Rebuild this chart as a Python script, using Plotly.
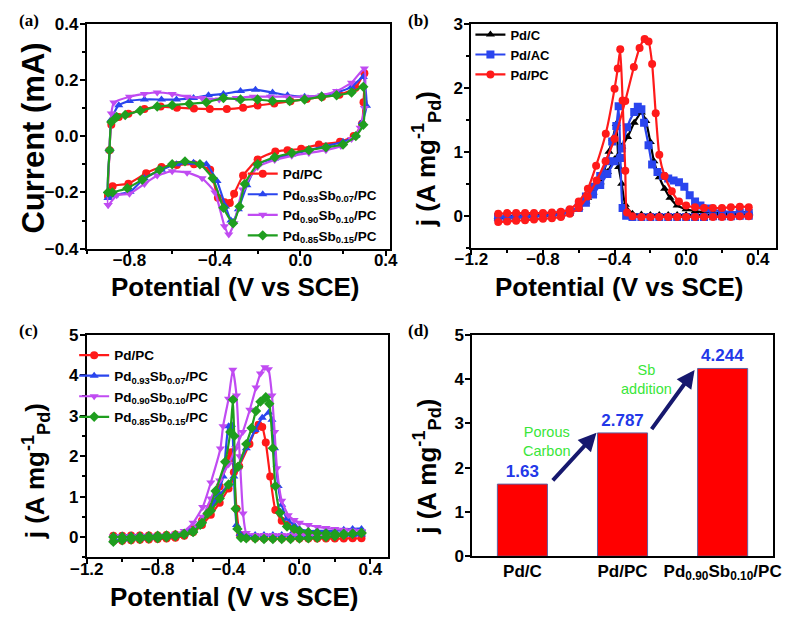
import plotly.graph_objects as go

W, H = 802, 639

# ---------------- Panel (a): CV curves ----------------
a_pc_x = [-0.90, -0.893, -0.885, -0.85, -0.805, -0.73, -0.654, -0.578, -0.498, -0.424, -0.344, -0.268, -0.20, -0.122, -0.046, 0.03, 0.102, 0.183, 0.258, 0.30,
          0.296, 0.289, 0.25, 0.186, 0.087, 0.004, -0.06, -0.117, -0.20, -0.268, -0.31, -0.33, -0.355, -0.386, -0.422, -0.498, -0.578, -0.65, -0.722, -0.805, -0.879, -0.90]
a_pc_y = [-0.213, -0.05, 0.04, 0.068, 0.079, 0.096, 0.105, 0.101, 0.098, 0.096, 0.096, 0.101, 0.109, 0.116, 0.124, 0.132, 0.139, 0.147, 0.171, 0.223,
          0.12, 0.044, 0.0, -0.02, -0.03, -0.045, -0.05, -0.055, -0.083, -0.14, -0.205, -0.238, -0.235, -0.219, -0.12, -0.10, -0.103, -0.11, -0.132, -0.169, -0.178, -0.213]

a_93_x = [-0.90, -0.893, -0.885, -0.85, -0.80, -0.73, -0.65, -0.58, -0.50, -0.43, -0.36, -0.28, -0.21, -0.13, -0.06, 0.02, 0.10, 0.17, 0.24, 0.295, 0.31,
          0.29, 0.26, 0.20, 0.12, 0.04, -0.04, -0.12, -0.20, -0.25, -0.29, -0.315, -0.325, -0.35, -0.39, -0.44, -0.50, -0.58, -0.65, -0.73, -0.797, -0.87, -0.90]
a_93_y = [-0.22, -0.05, 0.06, 0.11, 0.125, 0.13, 0.13, 0.13, 0.135, 0.145, 0.15, 0.16, 0.165, 0.155, 0.145, 0.14, 0.145, 0.155, 0.175, 0.21, 0.108,
          0.05, 0.0, -0.02, -0.035, -0.05, -0.065, -0.08, -0.10, -0.175, -0.26, -0.305, -0.30, -0.25, -0.16, -0.10, -0.095, -0.10, -0.12, -0.15, -0.198, -0.21, -0.22]

a_90_x = [-0.90, -0.893, -0.885, -0.873, -0.80, -0.73, -0.67, -0.60, -0.53, -0.46, -0.38, -0.30, -0.22, -0.14, -0.06, 0.02, 0.10, 0.17, 0.24, 0.30,
          0.30, 0.28, 0.24, 0.19, 0.12, 0.04, -0.04, -0.12, -0.20, -0.27, -0.31, -0.335, -0.355, -0.40, -0.46, -0.53, -0.60, -0.67, -0.73, -0.80, -0.86, -0.90]
a_90_y = [-0.245, -0.05, 0.08, 0.119, 0.14, 0.15, 0.155, 0.15, 0.14, 0.135, 0.13, 0.135, 0.14, 0.14, 0.14, 0.14, 0.145, 0.16, 0.19, 0.24,
          0.10, 0.03, -0.01, -0.035, -0.05, -0.06, -0.07, -0.085, -0.11, -0.19, -0.31, -0.35, -0.32, -0.20, -0.15, -0.13, -0.125, -0.14, -0.17, -0.205, -0.21, -0.245]

a_85_x = [-0.90, -0.893, -0.885, -0.86, -0.82, -0.75, -0.67, -0.60, -0.52, -0.44, -0.36, -0.28, -0.20, -0.13, -0.05, 0.02, 0.10, 0.17, 0.24, 0.295,
          0.295, 0.26, 0.20, 0.12, 0.04, -0.04, -0.12, -0.20, -0.26, -0.285, -0.315, -0.36, -0.41, -0.47, -0.54, -0.60, -0.66, -0.74, -0.81, -0.88, -0.90]
a_85_y = [-0.20, -0.05, 0.05, 0.068, 0.075, 0.09, 0.105, 0.11, 0.115, 0.12, 0.135, 0.13, 0.13, 0.125, 0.125, 0.13, 0.14, 0.145, 0.155, 0.175,
          0.04, 0.0, -0.03, -0.04, -0.05, -0.06, -0.075, -0.10, -0.17, -0.25, -0.31, -0.255, -0.15, -0.10, -0.09, -0.10, -0.12, -0.155, -0.185, -0.20, -0.20]

# ---------------- Panel (b) ----------------
b_c_x = [-1.05, -1.0, -0.95, -0.9, -0.85, -0.8, -0.75, -0.7, -0.65, -0.6, -0.56, -0.52, -0.48, -0.44, -0.40, -0.36, -0.327, -0.29, -0.25, -0.225, -0.20, -0.18, -0.15, -0.12, -0.09, -0.05, 0.0, 0.05, 0.1, 0.15, 0.2, 0.25, 0.3, 0.35,
         0.35, 0.3, 0.25, 0.2, 0.15, 0.1, 0.05, 0.0, -0.05, -0.1, -0.15, -0.2, -0.25, -0.3, -0.34, -0.36, -0.377, -0.39, -0.41, -0.431, -0.46, -0.5, -0.55, -0.6, -0.65, -0.7, -0.75, -0.8, -0.85, -0.9, -0.95, -1.0, -1.05]
b_c_y = [-0.04, -0.03, -0.02, -0.02, -0.01, 0.0, 0.01, 0.03, 0.06, 0.12, 0.22, 0.36, 0.52, 0.68, 0.88, 1.08, 1.23, 1.45, 1.61, 1.48, 1.15, 0.85, 0.6, 0.42, 0.28, 0.16, 0.1, 0.07, 0.05, 0.05, 0.04, 0.04, 0.05, 0.05,
         0.03, 0.02, 0.01, 0.01, 0.01, 0.01, 0.01, 0.01, 0.01, 0.01, 0.01, 0.01, 0.02, 0.03, 0.17, 0.5, 0.76, 1.43, 1.2, 1.0, 0.68, 0.47, 0.28, 0.13, 0.06, 0.03, 0.02, 0.01, 0.01, 0.0, 0.0, -0.01, -0.02]

b_ac_x = [-1.05, -1.0, -0.95, -0.9, -0.85, -0.8, -0.75, -0.7, -0.65, -0.6, -0.56, -0.52, -0.48, -0.44, -0.40, -0.36, -0.33, -0.29, -0.27, -0.25, -0.235, -0.21, -0.19, -0.16, -0.13, -0.10, -0.07, -0.04, -0.01, 0.02, 0.05, 0.08, 0.12, 0.2, 0.3, 0.35,
          0.35, 0.3, 0.25, 0.2, 0.15, 0.1, 0.05, 0.0, -0.05, -0.1, -0.15, -0.2, -0.25, -0.3, -0.335, -0.355, -0.367, -0.377, -0.39, -0.413, -0.44, -0.48, -0.52, -0.56, -0.6, -0.65, -0.7, -0.75, -0.8, -0.85, -0.9, -0.95, -1.0, -1.05]
b_ac_y = [-0.03, -0.03, -0.02, -0.02, -0.01, 0.0, 0.01, 0.03, 0.06, 0.12, 0.2, 0.33, 0.48, 0.65, 0.85, 1.05, 1.38, 1.62, 1.7, 1.66, 1.45, 1.1, 0.8, 0.68, 0.62, 0.58, 0.55, 0.52, 0.45, 0.32, 0.22, 0.16, 0.11, 0.07, 0.05, 0.04,
          0.0, 0.0, -0.01, -0.01, -0.01, -0.02, -0.02, -0.02, -0.02, -0.02, -0.02, -0.02, -0.02, -0.02, 0.0, 0.12, 0.9, 1.71, 1.4, 1.16, 0.85, 0.62, 0.45, 0.3, 0.14, 0.06, 0.02, 0.01, 0.0, 0.0, -0.01, -0.01, -0.02, -0.02]

b_pc_x = [-1.05, -1.0, -0.95, -0.9, -0.85, -0.8, -0.75, -0.7, -0.65, -0.6, -0.55, -0.5, -0.45, -0.40, -0.34, -0.292, -0.26, -0.232, -0.21, -0.19, -0.17, -0.15, -0.12, -0.08, -0.04, 0.0, 0.05, 0.1, 0.15, 0.2, 0.25, 0.3, 0.35,
          0.35, 0.3, 0.25, 0.2, 0.15, 0.1, 0.05, 0.0, -0.05, -0.1, -0.15, -0.2, -0.25, -0.3, -0.33, -0.34, -0.355, -0.368, -0.382, -0.40, -0.449, -0.503, -0.549, -0.60, -0.65, -0.7, -0.75, -0.8, -0.85, -0.9, -0.95, -1.0, -1.05]
b_pc_y = [-0.1, -0.09, -0.08, -0.07, -0.06, -0.05, -0.04, -0.02, 0.03, 0.12, 0.3, 0.55, 0.85, 1.2, 1.79, 2.32, 2.62, 2.76, 2.72, 2.37, 1.6, 0.95, 0.62, 0.38, 0.22, 0.16, 0.13, 0.12, 0.12, 0.12, 0.13, 0.14, 0.13,
          -0.01, -0.01, -0.02, -0.02, -0.02, -0.02, -0.02, -0.02, -0.02, -0.02, -0.02, -0.02, -0.02, -0.01, 0.05, 0.70, 1.8, 2.6, 2.3, 1.98, 1.28, 0.78, 0.42, 0.22, 0.1, 0.06, 0.05, 0.04, 0.04, 0.04, 0.04, 0.04, 0.03]

# ---------------- Panel (c) ----------------
c_pc_x = [-1.05, -1.0, -0.95, -0.9, -0.85, -0.8, -0.75, -0.7, -0.65, -0.6, -0.55, -0.5, -0.45, -0.40, -0.34, -0.282, -0.25, -0.231, -0.21, -0.19, -0.165, -0.136, -0.10, -0.07, -0.03, 0.0, 0.05, 0.1, 0.15, 0.2, 0.25, 0.3, 0.35,
          0.35, 0.3, 0.25, 0.2, 0.15, 0.1, 0.05, 0.0, -0.05, -0.1, -0.15, -0.2, -0.25, -0.3, -0.335, -0.355, -0.37, -0.385, -0.40, -0.45, -0.5, -0.55, -0.6, -0.65, -0.7, -0.75, -0.8, -0.85, -0.9, -0.95, -1.0, -1.05]
c_pc_y = [-0.1, -0.09, -0.08, -0.07, -0.06, -0.05, -0.04, -0.02, 0.03, 0.12, 0.3, 0.55, 0.85, 1.2, 1.75, 2.3, 2.65, 2.78, 2.72, 2.34, 1.5, 0.67, 0.4, 0.3, 0.2, 0.1, 0.05, 0.02, 0.02, 0.03, 0.05, 0.07, 0.08,
          -0.03, -0.03, -0.04, -0.04, -0.04, -0.04, -0.04, -0.04, -0.04, -0.04, -0.04, -0.04, -0.03, -0.02, 0.05, 0.7, 1.6, 2.1, 1.94, 1.25, 0.75, 0.4, 0.2, 0.1, 0.06, 0.05, 0.04, 0.04, 0.04, 0.04, 0.03, 0.03]

c_93_x = [-1.05, -1.0, -0.95, -0.9, -0.85, -0.8, -0.75, -0.7, -0.65, -0.6, -0.55, -0.5, -0.45, -0.4, -0.35, -0.3, -0.25, -0.21, -0.173, -0.155, -0.14, -0.12, -0.10, -0.07, -0.03, 0.0, 0.05, 0.1, 0.15, 0.2, 0.25, 0.3, 0.35,
          0.35, 0.3, 0.25, 0.2, 0.15, 0.1, 0.05, 0.0, -0.05, -0.1, -0.15, -0.2, -0.25, -0.3, -0.335, -0.355, -0.37, -0.383, -0.40, -0.43, -0.47, -0.52, -0.57, -0.62, -0.7, -0.75, -0.8, -0.85, -0.9, -0.95, -1.0, -1.05]
c_93_y = [-0.08, -0.06, -0.05, -0.04, -0.03, -0.02, 0.0, 0.02, 0.06, 0.15, 0.4, 0.7, 1.05, 1.3, 1.7, 2.2, 2.65, 2.95, 3.08, 2.9, 2.2, 1.26, 0.8, 0.45, 0.3, 0.2, 0.15, 0.15, 0.15, 0.15, 0.18, 0.2, 0.2,
          0.06, 0.05, 0.05, 0.05, 0.05, 0.05, 0.05, 0.05, 0.05, 0.05, 0.05, 0.05, 0.05, 0.05, 0.08, 0.3, 1.5, 2.78, 2.74, 1.5, 1.0, 0.6, 0.3, 0.15, 0.05, 0.04, 0.04, 0.04, 0.04, 0.04, 0.04, 0.03, 0.03]

c_90_x = [-1.05, -1.0, -0.95, -0.9, -0.85, -0.8, -0.75, -0.7, -0.65, -0.6, -0.546, -0.5, -0.45, -0.4, -0.36, -0.32, -0.28, -0.245, -0.22, -0.195, -0.175, -0.155, -0.14, -0.127, -0.10, -0.063, -0.03, 0.0, 0.05, 0.1, 0.15, 0.2, 0.25, 0.3, 0.35,
          0.35, 0.3, 0.25, 0.2, 0.15, 0.1, 0.05, 0.0, -0.05, -0.1, -0.15, -0.2, -0.25, -0.3, -0.318, -0.337, -0.355, -0.376, -0.40, -0.431, -0.446, -0.5, -0.546, -0.6, -0.65, -0.7, -0.75, -0.8, -0.85, -0.9, -0.95, -1.0, -1.05]
c_90_y = [-0.12, -0.1, -0.08, -0.06, -0.04, -0.02, 0.0, 0.03, 0.08, 0.2, 0.5, 0.95, 1.4, 1.8, 2.2, 2.6, 3.15, 3.7, 4.05, 4.2, 4.15, 3.5, 2.6, 1.7, 0.9, 0.54, 0.42, 0.35, 0.3, 0.25, 0.22, 0.2, 0.18, 0.16, 0.15,
          0.1, 0.08, 0.07, 0.06, 0.05, 0.05, 0.05, 0.05, 0.05, 0.05, 0.05, 0.05, 0.05, 0.1, 0.58, 2.0, 3.5, 4.14, 3.42, 2.74, 2.19, 1.35, 0.74, 0.35, 0.15, 0.08, 0.05, 0.04, 0.03, 0.03, 0.02, 0.02, 0.02]

c_85_x = [-1.05, -1.0, -0.95, -0.9, -0.85, -0.8, -0.75, -0.7, -0.65, -0.6, -0.55, -0.5, -0.45, -0.4, -0.346, -0.3, -0.27, -0.245, -0.22, -0.19, -0.17, -0.15, -0.136, -0.11, -0.07, -0.03, 0.0, 0.05, 0.1, 0.15, 0.2, 0.25, 0.3, 0.35,
          0.35, 0.3, 0.25, 0.2, 0.15, 0.1, 0.05, 0.0, -0.05, -0.1, -0.15, -0.2, -0.25, -0.3, -0.33, -0.35, -0.36, -0.368, -0.375, -0.39, -0.419, -0.473, -0.519, -0.56, -0.6, -0.65, -0.7, -0.75, -0.8, -0.85, -0.9, -0.95, -1.0, -1.05]
c_85_y = [-0.12, -0.08, -0.06, -0.05, -0.04, -0.03, -0.01, 0.02, 0.06, 0.12, 0.35, 0.65, 0.95, 1.3, 1.74, 2.3, 2.7, 3.12, 3.35, 3.46, 3.3, 2.2, 1.26, 0.6, 0.26, 0.2, 0.15, 0.12, 0.1, 0.09, 0.08, 0.08, 0.08, 0.1,
          0.1, 0.08, 0.05, 0.02, 0.0, -0.02, -0.03, -0.04, -0.05, -0.05, -0.05, -0.05, -0.04, -0.03, -0.02, 0.2, 0.7, 2.5, 3.4, 2.6, 1.86, 1.14, 0.58, 0.3, 0.15, 0.08, 0.05, 0.04, 0.03, 0.02, 0.01, 0.0, 0.0, 0.0]

# ---------------- Panel (d) ----------------
d_categories = ["Pd/C", "Pd/PC", "Pd<sub>0.90</sub>Sb<sub>0.10</sub>/PC"]
d_values = [1.63, 2.787, 4.244]
d_labels = ["1.63", "2.787", "4.244"]

# ---------------- styling ----------------
RED = "#FF1A1A"
BLUE = "#2A45EE"
VIOLET = "#C04BF2"
GREEN = "#1F9E1F"
BLACK = "#000000"
FONT = "Liberation Sans, Arial, sans-serif"

def dom_x(p0, p1):
    return [p0 / W, p1 / W]

def dom_y(top, bottom):
    return [1 - bottom / H, 1 - top / H]

fig = go.Figure()

def add_series(x, y, name, color, symbol, xa, ya, legend):
    fig.add_trace(go.Scatter(
        x=x, y=y, name=name, mode="lines+markers",
        line=dict(color=color, width=2.2, shape="spline", smoothing=0.5),
        marker=dict(color=color, symbol=symbol, size=8),
        xaxis=xa, yaxis=ya, legend=legend, cliponaxis=True))

add_series(a_pc_x, a_pc_y, "Pd/PC", RED, "circle", "x", "y", "legend")
add_series(a_93_x, a_93_y, "Pd<sub>0.93</sub>Sb<sub>0.07</sub>/PC", BLUE, "triangle-up", "x", "y", "legend")
add_series(a_90_x, a_90_y, "Pd<sub>0.90</sub>Sb<sub>0.10</sub>/PC", VIOLET, "triangle-down", "x", "y", "legend")
add_series(a_85_x, a_85_y, "Pd<sub>0.85</sub>Sb<sub>0.15</sub>/PC", GREEN, "diamond", "x", "y", "legend")

add_series(b_c_x, b_c_y, "Pd/C", BLACK, "triangle-up", "x2", "y2", "legend2")
add_series(b_ac_x, b_ac_y, "Pd/AC", BLUE, "square", "x2", "y2", "legend2")
add_series(b_pc_x, b_pc_y, "Pd/PC", RED, "circle", "x2", "y2", "legend2")

add_series(c_pc_x, c_pc_y, "Pd/PC", RED, "circle", "x3", "y3", "legend3")
add_series(c_93_x, c_93_y, "Pd<sub>0.93</sub>Sb<sub>0.07</sub>/PC", BLUE, "triangle-up", "x3", "y3", "legend3")
add_series(c_90_x, c_90_y, "Pd<sub>0.90</sub>Sb<sub>0.10</sub>/PC", VIOLET, "triangle-down", "x3", "y3", "legend3")
add_series(c_85_x, c_85_y, "Pd<sub>0.85</sub>Sb<sub>0.15</sub>/PC", GREEN, "diamond", "x3", "y3", "legend3")

fig.add_trace(go.Bar(
    x=d_categories, y=d_values, text=d_labels, textposition="outside",
    textfont=dict(family=FONT, size=17, color="#2338E8", weight="bold"),
    marker=dict(color="#FF0000", line=dict(color="#6060A0", width=1)),
    width=0.5, xaxis="x4", yaxis="y4", showlegend=False, cliponaxis=False))

tickfont = dict(family=FONT, size=17, color="black", weight="bold")

def axis(domain, rng, dtick, minor_dtick, anchor, fmt=None, standoff=0, ticks="outside"):
    d = dict(domain=domain, range=rng, dtick=dtick, tick0=0, anchor=anchor,
             showline=True, linecolor="black", linewidth=2, mirror=True,
             ticks=ticks, ticklen=5, tickwidth=2, tickcolor="black",
             tickfont=tickfont, showgrid=False, zeroline=False,
             ticklabelstandoff=standoff)
    if fmt:
        d["tickformat"] = fmt
    if minor_dtick:
        d["minor"] = dict(dtick=minor_dtick, tick0=0, ticks="outside", ticklen=3, tickwidth=2, tickcolor="black", showgrid=False)
    return d

fig.update_layout(
    width=W, height=H, margin=dict(l=0, r=0, t=0, b=0),
    paper_bgcolor="white", plot_bgcolor="white",
    font=dict(family=FONT, color="black"),
    xaxis=axis(dom_x(72, 385), [-1.0, 0.42], 0.4, 0.2, "y", ".1f", -10),
    yaxis=axis(dom_y(15, 247), [-0.4, 0.4], 0.2, 0.1, "x", ".1f", -2),
    xaxis2=axis(dom_x(469, 783), [-1.2, 0.5], 0.4, 0.2, "y2", ".1f", -10),
    yaxis2=axis(dom_y(15, 246), [-0.5, 3.0], 1, 0.5, "x2", None, -2),
    xaxis3=axis(dom_x(72, 383), [-1.2, 0.5], 0.4, 0.2, "y3", ".1f", -10),
    yaxis3=axis(dom_y(336, 565), [-0.5, 5.0], 1, 0.5, "x3", None, -2),
    xaxis4=dict(domain=dom_x(470, 780), range=[-0.5, 2.5], anchor="y4", showline=True, linecolor="black",
                linewidth=2, mirror=True, ticks="", tickfont=tickfont, showgrid=False, zeroline=False,
                ticklabelstandoff=-2),
    yaxis4=axis(dom_y(336, 564), [0, 5.0], 1, None, "x4", None, -2),
    legend=dict(x=233 / W, y=1 - 154 / H, xanchor="left", yanchor="top", bgcolor="rgba(0,0,0,0)",
                font=dict(family=FONT, size=13.5, color="black", weight="bold"), tracegroupgap=0, itemwidth=30),
    legend2=dict(x=468 / W, y=1 - 11 / H, xanchor="left", yanchor="top", bgcolor="rgba(0,0,0,0)",
                 font=dict(family=FONT, size=13, color="black", weight="bold"), tracegroupgap=0, itemwidth=30),
    legend3=dict(x=59 / W, y=1 - 341 / H, xanchor="left", yanchor="top", bgcolor="rgba(0,0,0,0)",
                 font=dict(family=FONT, size=13.5, color="black", weight="bold"), tracegroupgap=0, itemwidth=30),
)

# axis titles (placed as annotations in pixel positions)
def title(text, px, py, size, angle=0):
    fig.add_annotation(text=f"<b>{text}</b>", x=px / W, y=1 - py / H, xref="paper", yref="paper",
                       xanchor="center", yanchor="middle", showarrow=False, textangle=angle,
                       font=dict(family=FONT, size=size, color="black"))

xt = "Potential (V vs SCE)"
jt = "j (A mg<sup>-1</sup><sub>Pd</sub>)"
title(xt, 226, 287, 26)
title(xt, 622, 287, 26)
title(xt, 224, 606, 26)
title("Current (mA)", 17, 133, 31, -90)
title(jt, 423, 155, 26, -90)
title(jt, 19, 476, 26, -90)
title(jt, 423, 472, 26, -90)

# panel labels
for lbl, px, py in [("(a)", 0, 0), ("(b)", 402, 0), ("(c)", 0, 320), ("(d)", 401, 320)]:
    fig.add_annotation(text=f"<b>{lbl}</b>", x=px / W, y=1 - py / H, xref="paper", yref="paper",
                       xanchor="left", yanchor="top", showarrow=False,
                       font=dict(family="Liberation Serif, Times New Roman, serif", size=17, color="black"))

# arrows and notes in (d)
ARROW = "#16186E"
fig.add_annotation(x=0.74, y=2.79, ax=0.29, ay=1.68, xref="x4", yref="y4", axref="x4", ayref="y4",
                   showarrow=True, arrowhead=2, arrowsize=0.9, arrowwidth=4, arrowcolor=ARROW, text="")
fig.add_annotation(x=1.72, y=4.21, ax=1.28, ay=2.84, xref="x4", yref="y4", axref="x4", ayref="y4",
                   showarrow=True, arrowhead=2, arrowsize=0.9, arrowwidth=4, arrowcolor=ARROW, text="")
NOTE = "#39E639"
fig.add_annotation(x=0.25, y=2.6, xref="x4", yref="y4", text="Porous<br>Carbon", showarrow=False,
                   font=dict(family=FONT, size=14.5, color=NOTE), align="center")
fig.add_annotation(x=1.24, y=4.0, xref="x4", yref="y4", text="Sb<br>addition", showarrow=False,
                   font=dict(family=FONT, size=14.5, color=NOTE), align="center")

fig.write_html("out.html")
